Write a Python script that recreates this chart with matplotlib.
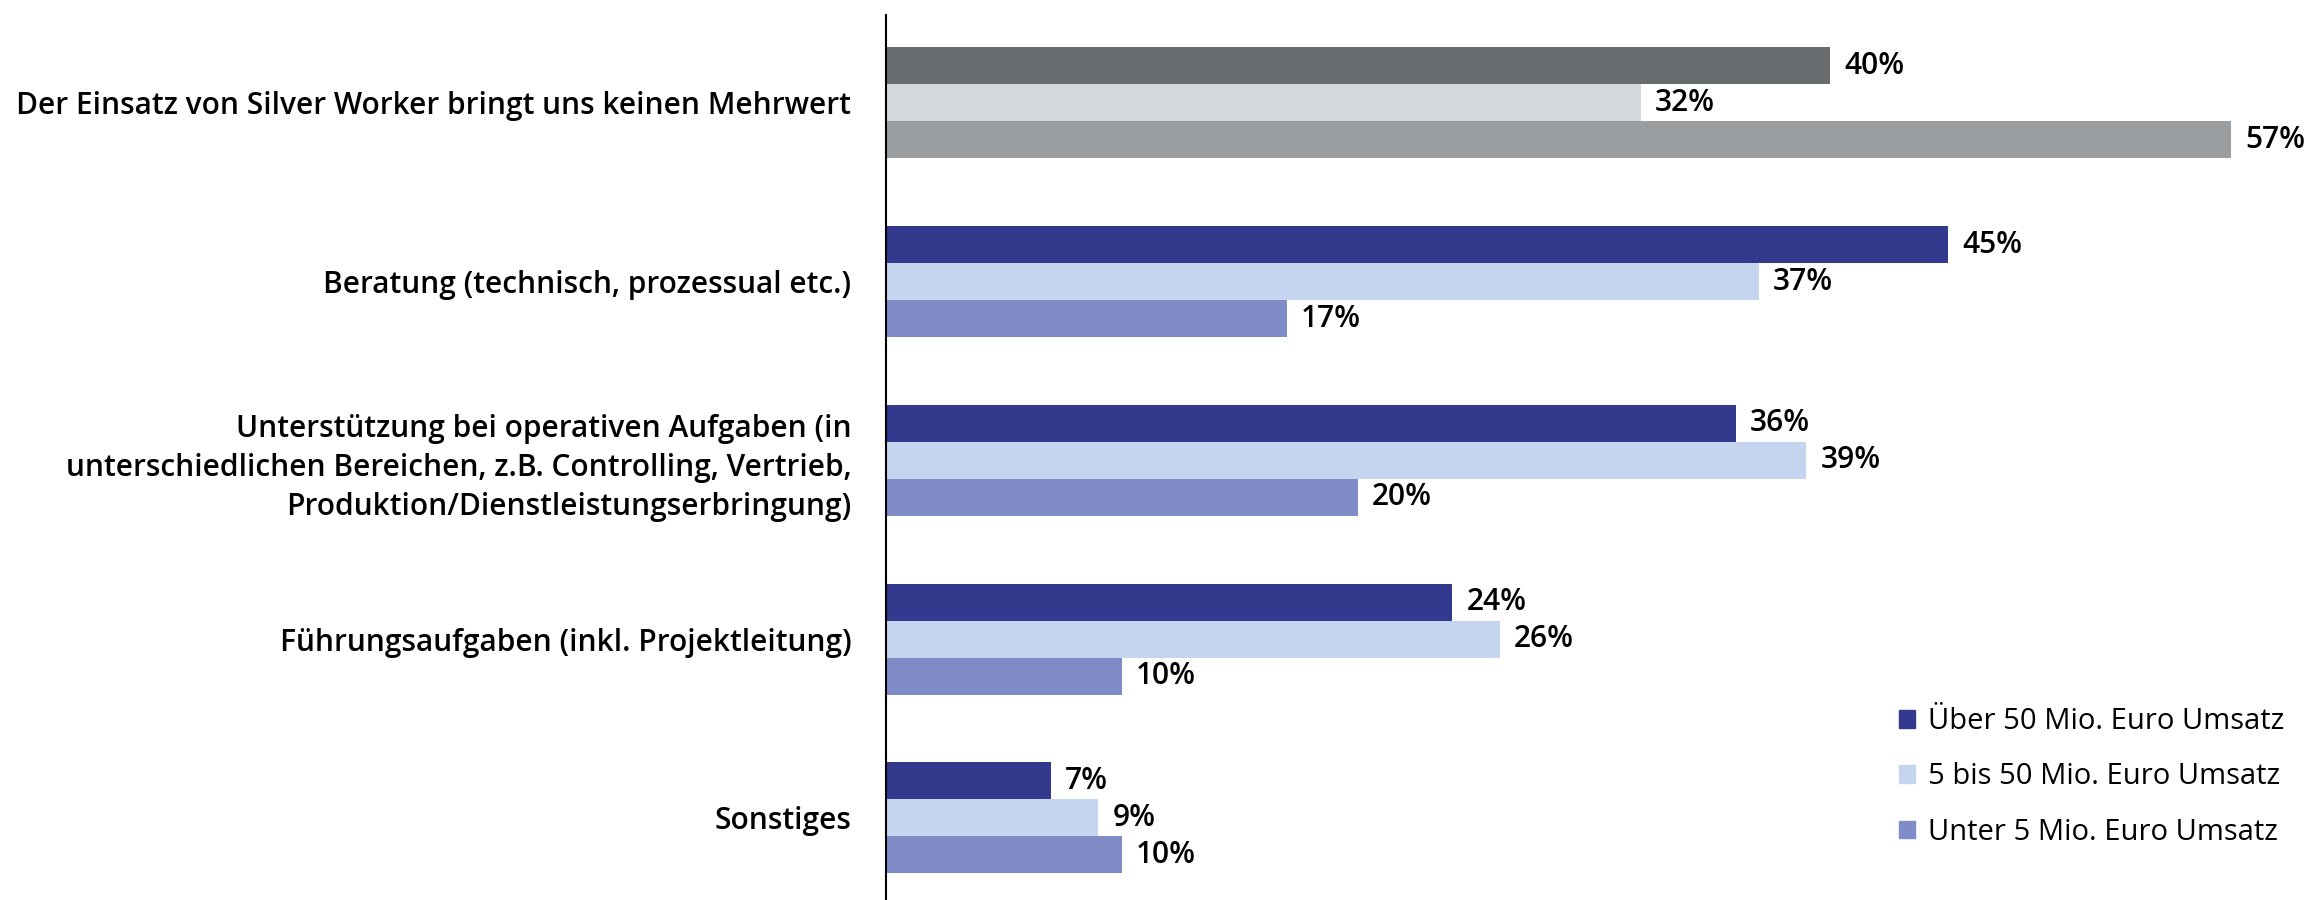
import numpy as np
import matplotlib.pyplot as plt
from matplotlib.patches import Patch

plt.rcParams['font.family'] = ['Open Sans', 'DejaVu Sans']

categories = [
    "Der Einsatz von Silver Worker bringt uns keinen Mehrwert",
    "Beratung (technisch, prozessual etc.)",
    "Unterstützung bei operativen Aufgaben (in\nunterschiedlichen Bereichen, z.B. Controlling, Vertrieb,\nProduktion/Dienstleistungserbringung)",
    "Führungsaufgaben (inkl. Projektleitung)",
    "Sonstiges",
]
series_names = ["Über 50 Mio. Euro Umsatz", "5 bis 50 Mio. Euro Umsatz", "Unter 5 Mio. Euro Umsatz"]
ueber_50 = [40, 45, 36, 24, 7]
von_5_bis_50 = [32, 37, 39, 26, 9]
unter_5 = [57, 17, 20, 10, 10]

blue_colors = ["#333a8e", "#c5d5f0", "#7f8cc7"]
gray_colors = ["#686c6f", "#d5d9dc", "#9a9ea1"]

fig = plt.figure(figsize=(23.11, 9), dpi=100)
ax = fig.add_axes([0.3834, 0.0, 0.6127, 0.983])

y = np.arange(len(categories))
h = 0.207
for i, vals in enumerate([ueber_50, von_5_bis_50, unter_5]):
    cols = [gray_colors[i]] + [blue_colors[i]] * (len(vals) - 1)
    bars = ax.barh(y + (i - 1) * h, vals, height=h, color=cols)
    for b, v in zip(bars, vals):
        ax.annotate(f"{v}%", (b.get_width(), b.get_y() + b.get_height() / 2),
                    xytext=(10, 0), textcoords="offset points",
                    va="center", ha="left", fontsize=21.5, fontweight="semibold")

ax.set_xlim(0, 60)
ax.set_ylim(4.46, -0.49)
ax.set_yticks(y)
ax.set_yticklabels(categories, fontsize=21.5, fontweight="semibold", linespacing=1.38)
ax.tick_params(axis="y", length=0, pad=25)
ax.set_xticks([])
for s in ["top", "right", "bottom"]:
    ax.spines[s].set_visible(False)
ax.spines["left"].set_linewidth(1.5)

handles = [Patch(color=c) for c in blue_colors]
fig.legend(handles, series_names, loc="lower right", bbox_to_anchor=(1.0, 0.03),
           frameon=False, fontsize=21, handlelength=0.55, handleheight=0.55,
           handletextpad=0.45, labelspacing=0.9)

fig.savefig("out.png", dpi=100)
